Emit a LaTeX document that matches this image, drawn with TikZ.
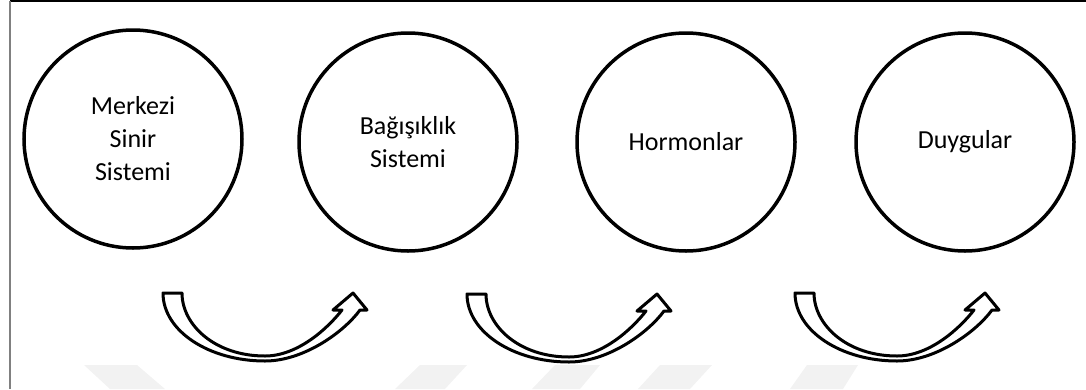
\documentclass[tikz,border=0pt]{standalone}
\usepackage{fontspec}
\setmainfont{Carlito}
\begin{document}
\begin{tikzpicture}[x=1pt,y=-1pt,
  bubble/.style={circle, draw=black, line width=3.5pt, minimum size=218pt,
    inner sep=0pt, align=center, font=\fontsize{26}{33}\selectfont},
  ribbon/.style={draw=black, fill=white, line width=3pt, line join=round},
  wmark/.style={fill=black!5, draw=none},
  hollowarrow/.pic={
    \path[ribbon] (0,0) -- (19,0)
      .. controls (19,32) and (52,63) .. (102,63)
      .. controls (135,63) and (165,35) .. (179,17)
      -- (170,17) -- (190,0) -- (204,17) -- (197,17)
      .. controls (180,40) and (140,68) .. (102,68)
      .. controls (46,68) and (0,38) .. (0,0) -- cycle;
  }]
\useasboundingbox (0,0) rectangle (1086,389);

% faint background stripes along the bottom edge
\fill[wmark] (84,365) -- (137,365) -- (165,389) -- (110,389) -- cycle;
\fill[wmark] (420,365) -- (467,365) -- (445,389) -- (395,389) -- cycle;
\fill[wmark] (555,365) -- (600,365) -- (580,389) -- (532,389) -- cycle;
\fill[wmark] (660,365) -- (712,365) -- (690,389) -- (638,389) -- cycle;
\fill[wmark] (807,365) -- (858,365) -- (843,389) -- (790,389) -- cycle;

% frame edges
\draw[black, line width=1.5pt] (10,1) -- (1086,1);
\draw[black!50, line width=1.5pt] (10,1) -- (10,389);

% the four systems
\node[bubble] (mss) at (133,139) {Merkezi\\Sinir\\Sistemi};
\node[bubble] (bag) at (408,142) {Bağışıklık\\Sistemi};
\node[bubble] (hor) at (686,142) {Hormonlar};
\node[bubble] (duy) at (965,142) {Duygular};

% curved hollow arrows between them
\pic at (163,293) {hollowarrow};
\pic at (467,294) {hollowarrow};
\pic at (795,293) {hollowarrow};
\end{tikzpicture}
\end{document}
